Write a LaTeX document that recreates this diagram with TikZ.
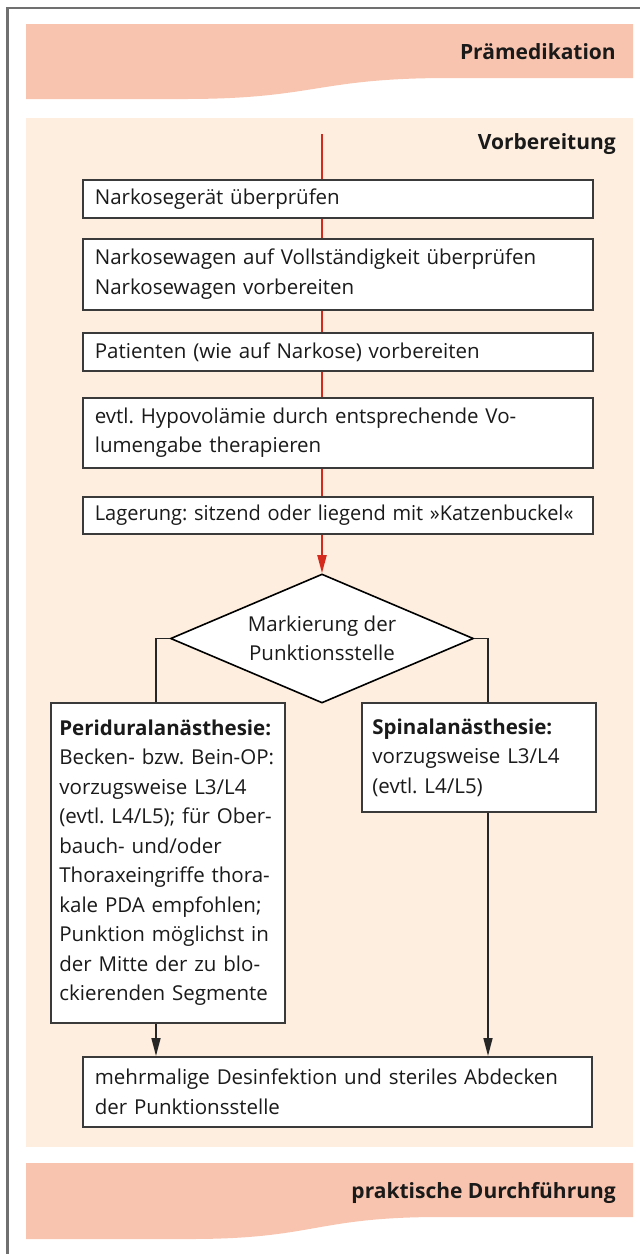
\documentclass[tikz,border=0pt]{standalone}
\usepackage{fontspec}
\setmainfont{Open Sans}
\usetikzlibrary{arrows.meta,shapes.geometric}
\definecolor{pinkband}{HTML}{F9C4AF}
\definecolor{beigebg}{HTML}{FDEEDF}
\definecolor{boxgray}{HTML}{3A3A3A}
\definecolor{redc}{HTML}{D42A1E}
\definecolor{framec}{HTML}{707070}
\definecolor{txt}{HTML}{1A1A1A}
\newcommand\bodyf{\fontsize{20.5}{29.5}\selectfont}
\newcommand\headf{\fontsize{21}{26}\selectfont\bfseries}
\newcommand\Z[1]{\mbox{#1}}
\begin{document}
\frenchspacing
\begin{tikzpicture}[x=1pt,y=-1pt,
  box/.style={draw=boxgray, fill=white, line width=1.7pt, anchor=north west,
    inner ysep=0pt, inner xsep=12pt, align=left, font=\bodyf, text=txt},
  redl/.style={draw=redc, line width=2pt},
  blk/.style={draw=black!85, line width=1.6pt},
  tip/.style={-{Triangle[length=18pt,width=9pt]}},
  head/.style={anchor=east, font=\headf, text=txt, inner sep=0pt}]
\useasboundingbox (0,0) rectangle (640,1254);
\fill[white] (0,0) rectangle (640,1254);
% frame
\draw[framec, line width=2.5pt] (7.5,1254) -- (7.5,8) -- (640,8);
% bands
\fill[pinkband] (26,24) -- (633,24) -- (633,78) -- (449,78)
  .. controls (316,78) and (316,99) .. (184,99) -- (26,99) -- cycle;
\fill[beigebg] (26,118) rectangle (633,1147);
\fill[pinkband] (26,1163) -- (633,1163) -- (633,1217) -- (440,1217)
  .. controls (315,1217) and (315,1239) .. (190,1239) -- (26,1239) -- cycle;
\node[head] (hp) at (616,52) {Prämedikation};
\node[head] (hv) at (616,144) {Vorbereitung};
\node[head] (hd) at (616,1193) {praktische Durchführung};
% boxes
\node[box, minimum width=510pt, minimum height=38pt, text width=486pt] (b1) at (82,179)
  {\Z{Narkosegerät überprüfen}};
\node[box, minimum width=510pt, minimum height=71pt, text width=486pt] (b2) at (82,238)
  {\Z{Narkosewagen auf Vollständigkeit überprüfen}\\\Z{Narkosewagen vorbereiten}};
\node[box, minimum width=510pt, minimum height=38pt, text width=486pt] (b3) at (82,332)
  {\Z{Patienten (wie auf Narkose) vorbereiten}};
\node[box, minimum width=510pt, minimum height=70pt, text width=486pt] (b4) at (82,397)
  {\Z{evtl. Hypovolämie durch entsprechende Vo-}\\\Z{lumengabe therapieren}};
\node[box, minimum width=510pt, minimum height=37pt, text width=486pt] (b5) at (82,496)
  {\scalebox{0.975}[1]{Lagerung: sitzend oder liegend mit »Katzenbuckel«}};
\node[draw=black, fill=white, line width=1.6pt, shape=diamond, aspect=2.35,
  minimum width=303pt, minimum height=129pt, inner sep=0pt, align=center,
  font=\bodyf, text=txt] (d) at (322,638.5) {Markierung der\\Punktionsstelle};
\node[box, inner xsep=8.5pt, minimum width=234pt, minimum height=320pt, text width=217pt] (pda) at (50,702)
  {\Z{\textbf{Periduralanästhesie:}}\\\Z{Becken- bzw. Bein-OP:}\\\Z{vorzugsweise L3/L4}\\
   \Z{(evtl. L4/L5); für Ober-}\\\Z{bauch- und/oder}\\\Z{Thoraxeingriffe thora-}\\
   \Z{kale PDA empfohlen;}\\\Z{Punktion möglichst in}\\\Z{der Mitte der zu blo-}\\
   \Z{ckierenden Segmente}};
\node[box, inner xsep=10.5pt, minimum width=234pt, minimum height=109pt, text width=213pt] (spa) at (361,702)
  {\Z{\textbf{Spinalanästhesie:}}\\\Z{vorzugsweise L3/L4}\\\Z{(evtl. L4/L5)}};
\node[box, minimum width=509pt, minimum height=70pt, text width=485pt] (fin) at (82,1056)
  {\Z{mehrmalige Desinfektion und steriles Abdecken}\\\Z{der Punktionsstelle}};
% connectors
\coordinate (st) at (322,134);
\coordinate (lx) at (156,0);
\coordinate (rx) at (488,0);
\draw[redl] (st) -- (st |- b1.north);
\draw[redl] (st |- b1.south) -- (st |- b2.north);
\draw[redl] (st |- b2.south) -- (st |- b3.north);
\draw[redl] (st |- b3.south) -- (st |- b4.north);
\draw[redl] (st |- b4.south) -- (st |- b5.north);
\draw[redl, -{Triangle[length=18pt,width=9pt,fill=redc]}] (d.north |- b5.south) -- (d.north);
\draw[blk] (d.west) -- (d.west -| lx) -- (lx |- pda.north);
\draw[blk] (d.east) -- (d.east -| rx) -- (rx |- spa.north);
\draw[blk, tip] (lx |- pda.south) -- (lx |- fin.north);
\draw[blk, tip] (rx |- spa.south) -- (rx |- fin.north);
\end{tikzpicture}
\end{document}
